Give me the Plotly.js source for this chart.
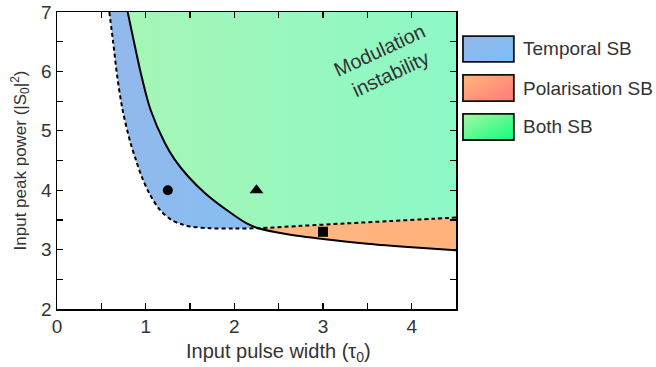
<!DOCTYPE html>
<html>
<head>
<meta charset="utf-8">
<script src="https://cdn.plot.ly/plotly-3.0.1.min.js"></script>
<style>html,body{margin:0;padding:0;background:#fff;}#chart{width:656px;height:367px;}</style>
</head>
<body>
<div id="chart"></div>
<script>
// Dashed boundary (temporal SB onset, then polarisation/both boundary)
const dashX = [0.59,0.635,0.68,0.74,0.83,0.89,0.955,1.04,1.16,1.29,1.40,1.50,1.72,2.0,2.27,2.75,3.25,3.75,4.25,4.5];
const dashY = [7,6.47,5.91,5.35,4.79,4.51,4.23,3.95,3.67,3.50,3.43,3.39,3.36,3.355,3.36,3.40,3.44,3.48,3.52,3.54];
// Solid boundary
const solidX = [0.797,0.872,0.955,1.056,1.218,1.33,1.48,1.67,1.91,2.14,2.27,2.6,3.0,3.5,4.0,4.5];
const solidY = [7,6.47,5.91,5.35,4.79,4.51,4.23,3.95,3.67,3.44,3.36,3.26,3.18,3.10,3.04,2.99];
// Index of crossing point in each array
const dashCross = 14, solidCross = 10;
// Markers
const markX = [1.25, 2.25, 3.0];
const markY = [4.0, 4.0, 3.3];
const markSym = ['circle','triangle-up','square'];
// Legend labels
const legendLabels = ['Temporal SB','Polarisation SB','Both SB'];
const xMax = 4.5, yMax = 7;

const font = 'Liberation Sans, Arial, sans-serif';
const txt = '#333';
const sm = 0.9;

// Blue region polygon
const blueX = dashX.slice(0, dashCross+1).concat(solidX.slice(0, solidCross+1).reverse());
const blueY = dashY.slice(0, dashCross+1).concat(solidY.slice(0, solidCross+1).reverse());
// Green region polygon
const greenX = solidX.slice(0, solidCross+1).concat(dashX.slice(dashCross+1), [xMax, xMax, solidX[0]]);
const greenY = solidY.slice(0, solidCross+1).concat(dashY.slice(dashCross+1), [yMax, yMax, yMax]);
// Orange region polygon
const orX = dashX.slice(dashCross).concat(solidX.slice(solidCross).reverse());
const orY = dashY.slice(dashCross).concat(solidY.slice(solidCross).reverse());

const traces = [
  {x: greenX, y: greenY, type:'scatter', mode:'lines', fill:'toself', line:{width:0},
   fillgradient:{type:'horizontal', colorscale:[[0,'#a6f6b6'],[1,'#8cf8c6']]}, hoverinfo:'skip', showlegend:false},
  {x: blueX, y: blueY, type:'scatter', mode:'lines', fill:'toself', line:{width:0, shape:'spline', smoothing:sm},
   fillgradient:{type:'horizontal', colorscale:[[0,'#92b8ea'],[1,'#86bef4']]}, hoverinfo:'skip', showlegend:false},
  {x: orX, y: orY, type:'scatter', mode:'lines', fill:'toself', line:{width:0},
   fillgradient:{type:'horizontal', colorscale:[[0,'#ffb882'],[1,'#ffb27c']]}, hoverinfo:'skip', showlegend:false},
  {x: solidX, y: solidY, type:'scatter', mode:'lines', line:{color:'#000', width:2, shape:'spline', smoothing:sm}, showlegend:false},
  {x: dashX, y: dashY, type:'scatter', mode:'lines', line:{color:'#000', width:2, dash:'4px,3px', shape:'spline', smoothing:sm}, showlegend:false},
  {x: markX, y: markY, type:'scatter', mode:'markers', marker:{color:'#000', opacity:1, size:[10,12,10], symbol:markSym, line:{width:0}}, showlegend:false}
];

function gradSvg(c1, c2){
  const s = '<svg xmlns="http://www.w3.org/2000/svg" width="100" height="50"><defs><linearGradient id="g" x1="0" y1="0" x2="1" y2="1"><stop offset="0" stop-color="'+c1+'"/><stop offset="1" stop-color="'+c2+'"/></linearGradient></defs><rect width="100" height="50" fill="url(#g)"/></svg>';
  return 'data:image/svg+xml;charset=utf-8,' + encodeURIComponent(s);
}
const legColors = [['#93b5e4','#7cc0fa'],['#ffb67a','#ff7a7c'],['#a6f8a2','#10fe80']];
const boxY = [[0.919,0.832],[0.788,0.700],[0.657,0.569]];
const bx0 = 1.0175, bx1 = 1.145;
const images = [], shapes = [], annotations = [];
legendLabels.forEach((lab, i) => {
  images.push({source: gradSvg(legColors[i][0], legColors[i][1]), xref:'paper', yref:'paper',
    x: bx0, y: boxY[i][0], sizex: bx1-bx0, sizey: boxY[i][0]-boxY[i][1], sizing:'stretch',
    xanchor:'left', yanchor:'top', layer:'above'});
  shapes.push({type:'rect', xref:'paper', yref:'paper', x0:bx0, x1:bx1, y0:boxY[i][1], y1:boxY[i][0],
    line:{color:'#111', width:1.8}, fillcolor:'rgba(0,0,0,0)'});
  annotations.push({text: lab, xref:'paper', yref:'paper', x: 1.163, y:(boxY[i][0]+boxY[i][1])/2,
    xanchor:'left', yanchor:'middle', showarrow:false, font:{family:font, size:19, color:txt}});
});
annotations.push({text:'Modulation<br>instability', x:3.70, y:6.16, xref:'x', yref:'y', showarrow:false,
  textangle:-25, font:{family:font, size:20, color:txt}});
// x-axis title (placed to match reference offset)
annotations.push({text:'Input pulse width (τ<sub>0</sub>)', xref:'paper', yref:'paper', x:0.554, y:-0.145,
  xanchor:'center', yanchor:'middle', showarrow:false, font:{family:font, size:20, color:txt}});

const axisCommon = {
  showgrid:false, zeroline:false, showline:true, linecolor:'#000', linewidth:1.5, mirror:'ticks',
  ticks:'inside', ticklen:6, tickwidth:1.2, tickcolor:'#000',
  tickfont:{family:font, size:19, color:txt},
  minor:{dtick:0.5, ticks:'inside', ticklen:6, tickwidth:1.2, tickcolor:'#000'}
};

const layout = {
  width:656, height:367,
  margin:{l:57, r:200, t:12, b:58},
  paper_bgcolor:'#fff', plot_bgcolor:'#fff',
  xaxis: Object.assign({}, axisCommon, {range:[0, xMax], dtick:1, tick0:0}),
  yaxis: Object.assign({}, axisCommon, {range:[2, yMax], dtick:1, tick0:0,
    title:{text:'Input peak power (|S<sub>0</sub>|<sup>2</sup>)', font:{family:font, size:17, color:txt}, standoff:10}}),
  shapes: shapes, images: images, annotations: annotations, showlegend:false
};

Plotly.newPlot('chart', traces, layout, {displayModeBar:false, staticPlot:true});
</script>
</body>
</html>
